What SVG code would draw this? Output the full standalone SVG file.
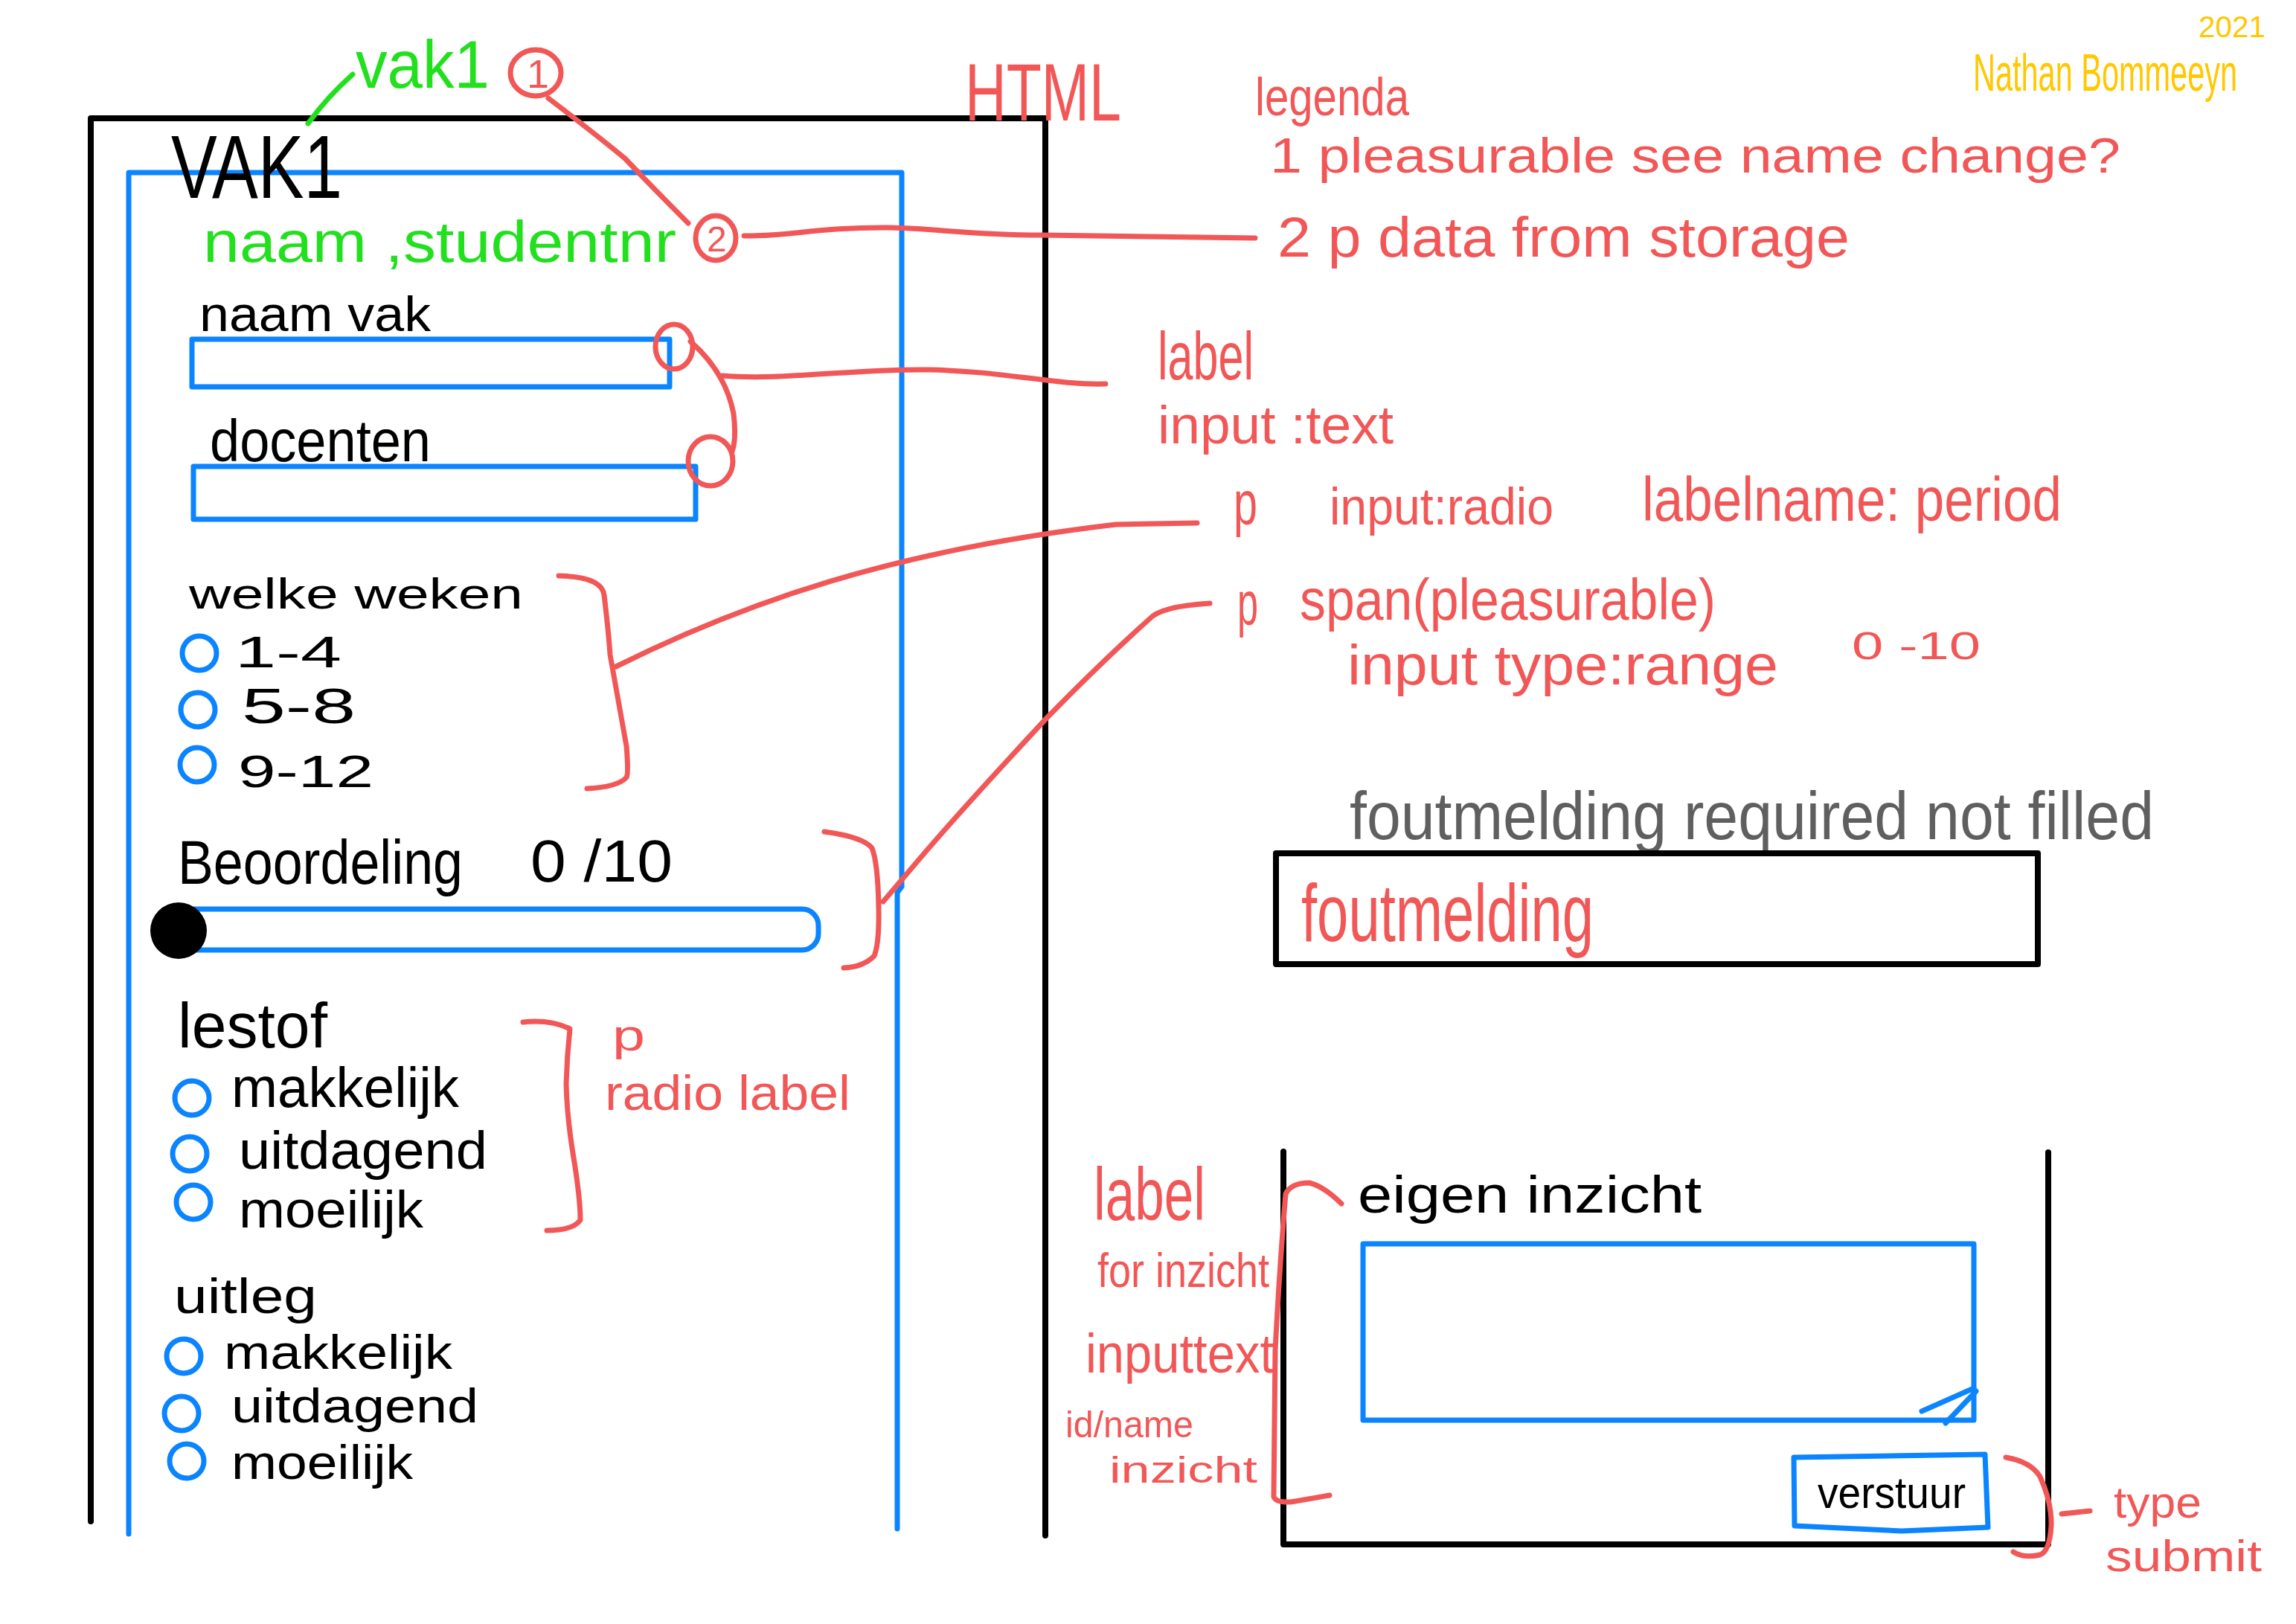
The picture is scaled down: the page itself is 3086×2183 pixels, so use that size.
<svg xmlns="http://www.w3.org/2000/svg" width="3086" height="2183" viewBox="0 0 3086 2183">
<style>
text{font-family:"Liberation Sans",Arial,sans-serif;}
.k{fill:#000}
.r{fill:#f25757}
.g{fill:#22e01e}
.y{fill:#ffc800}
.gr{fill:#5f5f5f}
.frame{fill:none;stroke:#000;stroke-width:8;stroke-linecap:round;stroke-linejoin:round}
.blue{fill:none;stroke:#0a84ff;stroke-width:7;stroke-linecap:round;stroke-linejoin:round}
.red{fill:none;stroke:#f25757;stroke-width:7;stroke-linecap:round;stroke-linejoin:round}
.grn{fill:none;stroke:#22e01e;stroke-width:7;stroke-linecap:round}
</style>
<rect width="3086" height="2183" fill="#fff"/>

<g id="outer-frame">
<path class="frame" d="M122,2045 L122,159 L1405,159 L1405,2064"/>
</g>
<g id="inner-frame">
<path class="blue" d="M173,2062 L173,232 L1212,232 L1212,1192 L1206,1200 L1206,2055"/>
</g>

<g id="title">
<text class="k" x="230" y="266" font-size="120" textLength="230" lengthAdjust="spacingAndGlyphs">VAK1</text>
<text class="g" x="478" y="118" font-size="90" textLength="180" lengthAdjust="spacingAndGlyphs">vak1</text>
</g>
<g id="marker-1">
<ellipse cx="720" cy="98" rx="34" ry="31" class="red"/>
<text class="r" x="708" y="118" font-size="54">1</text>
</g>
<g id="student">
<text class="g" x="273" y="352" font-size="78" textLength="636" lengthAdjust="spacingAndGlyphs">naam ,studentnr</text>
</g>
<g id="marker-2">
<ellipse cx="962" cy="320" rx="27" ry="30" class="red"/>
<text class="r" x="950" y="338" font-size="48">2</text>
</g>

<g id="field-naam-vak">
<text class="k" x="268" y="445" font-size="66" textLength="311" lengthAdjust="spacingAndGlyphs">naam vak</text>
<rect class="blue" x="258" y="456" width="642" height="64"/>
<ellipse cx="906" cy="466" rx="25" ry="30" class="red"/>
</g>
<g id="field-docenten">
<text class="k" x="282" y="620" font-size="80" textLength="297" lengthAdjust="spacingAndGlyphs">docenten</text>
<rect class="blue" x="260" y="627" width="675" height="71"/>
<ellipse cx="955" cy="620" rx="30" ry="33" class="red"/>
</g>

<g id="group-weken">
<text class="k" x="254" y="818" font-size="58" textLength="449" lengthAdjust="spacingAndGlyphs">welke weken</text>
<circle class="blue" cx="268" cy="878" r="23"/>
<circle class="blue" cx="266" cy="954" r="23"/>
<circle class="blue" cx="265" cy="1028" r="23"/>
<text class="k" x="316" y="897" font-size="60" textLength="143" lengthAdjust="spacingAndGlyphs">1-4</text>
<text class="k" x="325" y="972" font-size="66" textLength="153" lengthAdjust="spacingAndGlyphs">5-8</text>
<text class="k" x="320" y="1058" font-size="62" textLength="182" lengthAdjust="spacingAndGlyphs">9-12</text>
</g>

<g id="group-beoordeling">
<text class="k" x="239" y="1188" font-size="84" textLength="383" lengthAdjust="spacingAndGlyphs">Beoordeling</text>
<text class="k" x="713" y="1185" font-size="80" textLength="191" lengthAdjust="spacingAndGlyphs">0 /10</text>
<rect class="blue" x="239" y="1222" width="861" height="55" rx="22"/>
<circle cx="240" cy="1251" r="38" fill="#000"/>
</g>

<g id="group-lestof">
<text class="k" x="239" y="1408" font-size="86" textLength="201" lengthAdjust="spacingAndGlyphs">lestof</text>
<circle class="blue" cx="258" cy="1476" r="23"/>
<circle class="blue" cx="255" cy="1551" r="23"/>
<circle class="blue" cx="260" cy="1616" r="23"/>
<text class="k" x="311" y="1488" font-size="76" textLength="306" lengthAdjust="spacingAndGlyphs">makkelijk</text>
<text class="k" x="321" y="1571" font-size="72" textLength="334" lengthAdjust="spacingAndGlyphs">uitdagend</text>
<text class="k" x="321" y="1650" font-size="70" textLength="248" lengthAdjust="spacingAndGlyphs">moeilijk</text>
</g>

<g id="group-uitleg">
<text class="k" x="234" y="1765" font-size="66" textLength="192" lengthAdjust="spacingAndGlyphs">uitleg</text>
<circle class="blue" cx="247" cy="1823" r="23"/>
<circle class="blue" cx="244" cy="1900" r="23"/>
<circle class="blue" cx="251" cy="1964" r="23"/>
<text class="k" x="301" y="1840" font-size="64" textLength="307" lengthAdjust="spacingAndGlyphs">makkelijk</text>
<text class="k" x="311" y="1912" font-size="64" textLength="332" lengthAdjust="spacingAndGlyphs">uitdagend</text>
<text class="k" x="311" y="1988" font-size="64" textLength="244" lengthAdjust="spacingAndGlyphs">moeilijk</text>
</g>

<g id="html-label">
<text class="r" x="1297" y="162" font-size="110" textLength="210" lengthAdjust="spacingAndGlyphs">HTML</text>
</g>
<g id="signature">
<text class="y" transform="translate(2652,122) scale(1,1.4)" x="0" y="0" font-size="50" textLength="355" lengthAdjust="spacingAndGlyphs">Nathan Bommeeyn</text>
<text class="y" x="2955" y="50" font-size="40" textLength="90" lengthAdjust="spacingAndGlyphs">2021</text>
</g>

<g id="legenda">
<text class="r" x="1687" y="155" font-size="72" textLength="207" lengthAdjust="spacingAndGlyphs">legenda</text>
<text class="r" x="1707" y="232" font-size="66" textLength="1143" lengthAdjust="spacingAndGlyphs">1 pleasurable see name change?</text>
<text class="r" x="1717" y="345" font-size="76" textLength="769" lengthAdjust="spacingAndGlyphs">2 p data from storage</text>
</g>
<g id="note-label-input">
<text class="r" x="1556" y="510" font-size="90" textLength="129" lengthAdjust="spacingAndGlyphs">label</text>
<text class="r" x="1556" y="596" font-size="72" textLength="317" lengthAdjust="spacingAndGlyphs">input :text</text>
</g>
<g id="note-radio">
<text class="r" x="1658" y="705" font-size="84" textLength="32" lengthAdjust="spacingAndGlyphs">p</text>
<text class="r" x="1787" y="705" font-size="70" textLength="301" lengthAdjust="spacingAndGlyphs">input:radio</text>
<text class="r" x="2207" y="700" font-size="84" textLength="564" lengthAdjust="spacingAndGlyphs">labelname: period</text>
</g>
<g id="note-range">
<text class="r" x="1663" y="840" font-size="84" textLength="28" lengthAdjust="spacingAndGlyphs">p</text>
<text class="r" x="1747" y="833" font-size="78" textLength="559" lengthAdjust="spacingAndGlyphs">span(pleasurable)</text>
<text class="r" x="1811" y="920" font-size="76" textLength="579" lengthAdjust="spacingAndGlyphs">input type:range</text>
<text class="r" x="2489" y="886" font-size="52" textLength="173" lengthAdjust="spacingAndGlyphs">0 -10</text>
</g>
<g id="note-p-radio-label">
<text class="r" x="823" y="1412" font-size="60" textLength="44" lengthAdjust="spacingAndGlyphs">p</text>
<text class="r" x="813" y="1492" font-size="66" textLength="330" lengthAdjust="spacingAndGlyphs">radio label</text>
</g>

<g id="foutmelding">
<text class="gr" x="1814" y="1128" font-size="90" textLength="1081" lengthAdjust="spacingAndGlyphs">foutmelding required not filled</text>
<rect class="frame" x="1715" y="1147" width="1024" height="149" stroke-width="7"/>
<text class="r" x="1749" y="1265" font-size="110" textLength="393" lengthAdjust="spacingAndGlyphs">foutmelding</text>
</g>

<g id="inzicht-panel">
<path class="frame" stroke-width="7" d="M1725,1548 L1725,2076 L2753,2076 L2753,1549"/>
<text class="k" x="1825" y="1630" font-size="70" textLength="462" lengthAdjust="spacingAndGlyphs">eigen inzicht</text>
<rect class="blue" x="1832" y="1672" width="821" height="237"/>
<path class="blue" d="M2583,1897 L2653,1866 M2615,1913 L2656,1870"/>
</g>
<g id="button-verstuur">
<path class="blue" d="M2411,1959 L2668,1955 L2672,2053 L2556,2058 L2412,2051 Z"/>
<text class="k" x="2443" y="2027" font-size="60" textLength="199" lengthAdjust="spacingAndGlyphs">verstuur</text>
</g>
<g id="note-inzicht">
<text class="r" x="1470" y="1640" font-size="100" textLength="150" lengthAdjust="spacingAndGlyphs">label</text>
<text class="r" x="1475" y="1730" font-size="64" textLength="231" lengthAdjust="spacingAndGlyphs">for inzicht</text>
<text class="r" x="1459" y="1845" font-size="74" textLength="253" lengthAdjust="spacingAndGlyphs">inputtext</text>
<text class="r" x="1432" y="1932" font-size="50" textLength="172" lengthAdjust="spacingAndGlyphs">id/name</text>
<text class="r" x="1491" y="1993" font-size="50" textLength="199" lengthAdjust="spacingAndGlyphs">inzicht</text>
</g>
<g id="note-submit">
<text class="r" x="2841" y="2040" font-size="60" textLength="118" lengthAdjust="spacingAndGlyphs">type</text>
<text class="r" x="2830" y="2112" font-size="60" textLength="210" lengthAdjust="spacingAndGlyphs">submit</text>
</g>

<g id="connectors">
<path class="grn" d="M414,166 Q440,130 474,100"/>
<path class="red" d="M737,132 Q800,180 840,213 Q880,255 925,300"/>
<path class="red" d="M1000,317 C1060,318 1100,305 1196,306 C1260,307 1300,316 1400,316 L1687,320"/>
<path class="red" d="M928,459 Q975,500 986,556 Q990,590 984,607"/>
<path class="red" d="M971,505 C1050,512 1150,495 1250,497 C1350,499 1420,518 1486,516"/>
<path class="red" d="M751,774 Q809,775 812,800 Q818,850 820,880 L842,1003 Q845,1040 842,1045 Q830,1058 789,1060"/>
<path class="red" d="M828,896 C1000,810 1200,740 1500,705 L1609,703"/>
<path class="red" d="M1108,1118 Q1160,1125 1172,1140 Q1180,1160 1181,1220 Q1182,1268 1175,1285 Q1160,1300 1134,1301"/>
<path class="red" d="M1187,1212 L1244,1145 Q1300,1080 1407,965 Q1480,890 1545,832 Q1560,815 1626,811"/>
<path class="red" d="M703,1374 Q740,1370 766,1383 Q762,1420 761,1457 Q762,1500 770,1550 Q780,1610 780,1640 Q770,1654 735,1654"/>
<path class="red" d="M1803,1618 Q1780,1595 1760,1590 Q1735,1590 1728,1605 Q1720,1700 1714,1815 L1712,2012 Q1715,2020 1735,2019 L1787,2010"/>
<path class="red" d="M2696,1959 Q2730,1965 2742,1985 Q2758,2020 2757,2051 Q2755,2085 2742,2090 Q2720,2095 2706,2086"/>
<path class="red" d="M2771,2035 L2809,2031"/>
</g>
</svg>
